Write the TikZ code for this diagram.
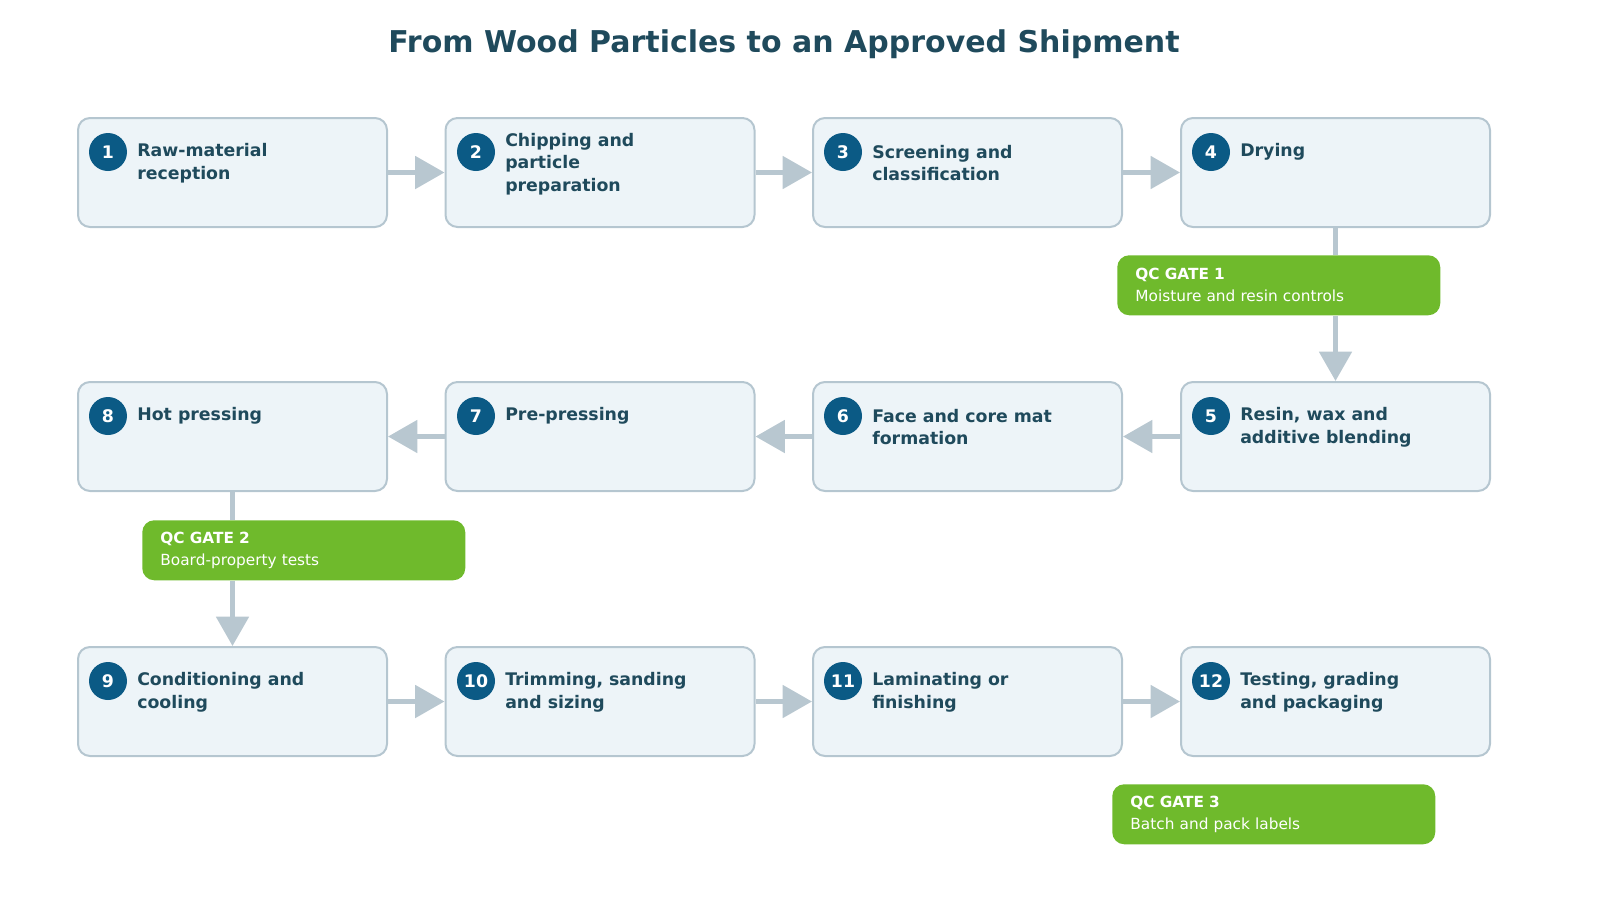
\documentclass[tikz,border=0pt]{standalone}
\usepackage{fontspec}
\setmainfont{DejaVu Sans}
\usetikzlibrary{arrows.meta}
\definecolor{ink}{HTML}{1F4A5C}
\definecolor{boxfill}{HTML}{EDF4F8}
\definecolor{boxline}{HTML}{B5C6D0}
\definecolor{flow}{HTML}{B8C7D0}
\definecolor{badge}{HTML}{0B5A85}
\definecolor{gate}{HTML}{6FBA2C}
\tikzset{
  box/.style={draw=boxline, line width=1.5pt, fill=boxfill, rounded corners=9pt,
    minimum width=231.75pt, minimum height=81.75pt, inner sep=0pt},
  num/.style={circle, fill=badge, text=white, font=\fontsize{13}{15}\selectfont\bfseries,
    minimum size=28.5pt, inner sep=0pt},
  steptext/.style={anchor=west, align=left, text=ink, inner sep=0pt,
    font=\fontsize{13}{17}\selectfont\bfseries},
  qc/.style={fill=gate, rounded corners=9pt, text=white, align=left, anchor=north west,
    minimum width=242.25pt, minimum height=45pt, text width=215pt, inner sep=0pt,
    font=\fontsize{11.5}{16.5}\selectfont},
  link/.style={draw=flow, line width=3.75pt, -{Triangle[length=22pt, width=24pt]}},
  plain/.style={draw=flow, line width=3.75pt}
}
\begin{document}
\begin{tikzpicture}[x=0.75pt, y=-0.75pt]
\useasboundingbox (0,0) rectangle (1600,900);
\node[text=ink, font=\fontsize{22.5}{26}\selectfont\bfseries] (title) at (784,44)
  {From Wood Particles to an Approved Shipment};

% row 1
\node[box] (b1) at (232.5,172.5) {};
\node[box] (b2) at (600,172.5) {};
\node[box] (b3) at (967.5,172.5) {};
\node[box] (b4) at (1335.5,172.5) {};
% row 2
\node[box] (b5) at (1335.5,436.5) {};
\node[box] (b6) at (967.5,436.5) {};
\node[box] (b7) at (600,436.5) {};
\node[box] (b8) at (232.5,436.5) {};
% row 3
\node[box] (b9) at (232.5,701.5) {};
\node[box] (b10) at (600,701.5) {};
\node[box] (b11) at (967.5,701.5) {};
\node[box] (b12) at (1335.5,701.5) {};

\foreach \i/\x/\y in {1/108/152, 2/476/152, 3/843/152, 4/1211/152,
  5/1211/416, 6/843/416, 7/476/416, 8/108/416,
  9/108/681, 10/476/681, 11/843/681, 12/1211/681}
  \node[num] (n\i) at (\x,\y) {\i};

\node[steptext] (t1) at (137,163) {Raw-material\\reception};
\node[steptext] (t2) at (505,164) {Chipping and\\particle\\preparation};
\node[steptext] (t3) at (872,163) {Screening and\\classification};
\node[steptext] (t4) at (1240,152) {Drying};
\node[steptext] (t5) at (1240,427) {Resin, wax and\\additive blending};
\node[steptext] (t6) at (872,427) {Face and core mat\\formation};
\node[steptext] (t7) at (505,416) {Pre-pressing};
\node[steptext] (t8) at (137,416) {Hot pressing};
\node[steptext] (t9) at (137,692) {Conditioning and\\cooling};
\node[steptext] (t10) at (505,692) {Trimming, sanding\\and sizing};
\node[steptext] (t11) at (872,692) {Laminating or\\finishing};
\node[steptext] (t12) at (1240,692) {Testing, grading\\and packaging};

% connectors
\draw[link] (b1) -- (b2);
\draw[link] (b2) -- (b3);
\draw[link] (b3) -- (b4);
\draw[link] (b5) -- (b6);
\draw[link] (b6) -- (b7);
\draw[link] (b7) -- (b8);
\draw[link] (b9) -- (b10);
\draw[link] (b10) -- (b11);
\draw[link] (b11) -- (b12);

% quality gates
\node[qc] (g1) at (1117,255) {\textbf{QC GATE 1}\\Moisture and resin controls};
\node[qc] (g2) at (142,520) {\textbf{QC GATE 2}\\Board-property tests};
\node[qc] (g3) at (1112,784) {\textbf{QC GATE 3}\\Batch and pack labels};

\draw[plain] (b4.south) -- (b4.south |- g1.north);
\draw[link] (b4.south |- g1.south) -- (b5.north);
\draw[plain] (b8.south) -- (b8.south |- g2.north);
\draw[link] (b8.south |- g2.south) -- (b9.north);
\end{tikzpicture}
\end{document}
